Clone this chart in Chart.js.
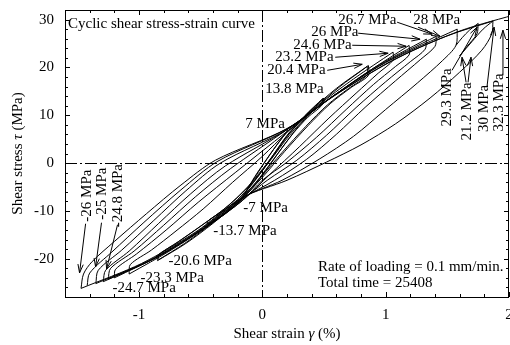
<!DOCTYPE html>
<html>
<head>
<meta charset="utf-8">
<script src="https://cdn.jsdelivr.net/npm/chart.js@4.4.1/dist/chart.umd.min.js"></script>
<style>
  html, body { margin: 0; padding: 0; background: #fff; }
  #wrap { width: 510px; height: 345px; }
</style>
</head>
<body>
<div id="wrap"><canvas id="chart" width="510" height="345"></canvas></div>
<script>
// Cyclic shear stress-strain loops, [strain %, stress MPa]
const xTickLabels = [-1, 0, 1, 2];
const yTickLabels = [-20, -10, 0, 10, 20, 30];

// +/-7 MPa
const load07 = [[-0.16, -7.2], [-0.1, -4.6], [-0.01, -1], [0.09, 2.8], [0.21, 6.9]];
const unload07 = [[0.21, 6.9], [0.14, 4.6], [0.04, 1], [-0.06, -2.8], [-0.16, -7.2]];
// +/-13.7 MPa (two cycles)
const load14a = [[-0.45, -13.1], [-0.44, -12.1], [-0.33, -10.2], [-0.2, -7.6], [-0.06, -3.6], [0.07, 1], [0.2, 5.8], [0.34, 9.8], [0.49, 13.5]];
const unload14a = [[0.49, 13.5], [0.48, 12.4], [0.39, 10.4], [0.29, 7.6], [0.16, 3.2], [0.03, -1.5], [-0.12, -6.4], [-0.28, -10], [-0.45, -13.1]];
const load14b = [[-0.44, -12.8], [-0.32, -10.4], [-0.18, -7.4], [-0.04, -3], [0.09, 1.6], [0.22, 6.2], [0.36, 10.2], [0.5, 13.6]];
const unload14b = [[0.5, 13.6], [0.48, 12], [0.37, 9.6], [0.25, 6.2], [0.12, 1.8], [-0.02, -3], [-0.15, -7], [-0.3, -10.6], [-0.44, -12.8]];
// +/-20.5 MPa (two cycles)
const load20a = [[-0.85, -20.4], [-0.85, -19.3], [-0.7, -16.8], [-0.5, -13.2], [-0.3, -9.4], [-0.12, -5], [0.04, 0], [0.2, 5.6], [0.38, 10.6], [0.6, 15.6], [0.86, 20.4]];
const unload20a = [[0.86, 20.4], [0.86, 18.3], [0.72, 15.8], [0.55, 12.4], [0.37, 7.8], [0.18, 2.4], [0, -3], [-0.18, -7.8], [-0.4, -12.6], [-0.62, -16.8], [-0.85, -20.4]];
const load20b = [[-0.84, -20.2], [-0.84, -19.2], [-0.68, -16.4], [-0.48, -12.8], [-0.28, -9], [-0.1, -4.6], [0.06, 0.4], [0.22, 5.8], [0.4, 10.8], [0.62, 15.8], [0.85, 20.2]];
const unload20b = [[0.85, 20.2], [0.85, 18.4], [0.7, 15.6], [0.53, 12.2], [0.35, 7.6], [0.16, 2.2], [-0.02, -3.2], [-0.2, -8], [-0.42, -12.8], [-0.63, -16.8], [-0.84, -20.2]];
// +/-23.2 MPa
const load23 = [[-1.08, -23.2], [-1.07, -21.2], [-0.9, -18.2], [-0.7, -14.2], [-0.48, -9.6], [-0.24, -4], [0, 1.4], [0.2, 6.4], [0.45, 12], [0.74, 17.6], [1.06, 23.2]];
const unload23 = [[1.06, 23.2], [1.06, 21.5], [0.94, 18.8], [0.76, 14.6], [0.54, 9.4], [0.3, 3.4], [0.06, -2.4], [-0.16, -7.8], [-0.42, -12.8], [-0.74, -18.2], [-1.08, -23.2]];
// 24.6 / -24.0 MPa
const load25 = [[-1.2, -24], [-1.19, -22.2], [-1.02, -19], [-0.78, -14], [-0.52, -8.2], [-0.22, -2], [0.2, 6.6], [0.5, 12.6], [0.84, 18.8], [1.19, 24.6]];
const unload25 = [[1.19, 24.6], [1.19, 22.6], [1.08, 20.2], [0.9, 16.4], [0.68, 11.2], [0.44, 5.4], [0.2, 0.2], [0, -3.6], [-0.16, -7.8], [-0.46, -13.4], [-0.82, -19.2], [-1.2, -24]];
// 26 / -24.3 MPa
const load26 = [[-1.25, -24.3], [-1.23, -22], [-1.04, -18.4], [-0.8, -13], [-0.54, -7], [-0.26, -1.2], [0.2, 7], [0.52, 13], [0.9, 19.8], [1.33, 25.9]];
const unload26 = [[1.33, 25.9], [1.32, 23.8], [1.2, 21.2], [1.0, 17], [0.76, 11.6], [0.52, 5.8], [0.28, 0.6], [0.04, -3.6], [-0.16, -7.6], [-0.48, -13.8], [-0.85, -19.6], [-1.25, -24.3]];
// 26.7 / -24.8 MPa
const load27 = [[-1.29, -24.8], [-1.27, -22.4], [-1.08, -18.4], [-0.84, -12.6], [-0.58, -6.4], [-0.3, -0.6], [0.2, 7], [0.54, 13.4], [0.95, 20.4], [1.41, 26.5]];
const unload27 = [[1.41, 26.5], [1.4, 24.4], [1.28, 21.6], [1.08, 17.2], [0.84, 11.8], [0.6, 6], [0.36, 0.8], [0.1, -3.6], [-0.16, -7.4], [-0.5, -14], [-0.88, -20], [-1.29, -24.8]];
// 28 / -25 MPa
const load28 = [[-1.35, -25.2], [-1.33, -22.4], [-1.14, -18.2], [-0.88, -12], [-0.62, -5.8], [-0.34, 0], [0.2, 7], [0.56, 13.8], [1, 21], [1.58, 28]];
const unload28 = [[1.58, 28], [1.57, 24.6], [1.46, 21.4], [1.26, 16.8], [1.0, 11.2], [0.74, 5.6], [0.46, 0.8], [0.16, -3.6], [-0.16, -7.2], [-0.52, -14.2], [-0.92, -20.4], [-1.35, -25.2]];
// 30 / -26 MPa
const load30 = [[-1.47, -26.2], [-1.45, -23.2], [-1.38, -20.6], [-1.2, -16.4], [-0.94, -10.6], [-0.66, -4.6], [-0.38, 0.6], [0.2, 7.2], [0.58, 14], [1.05, 21.4], [1.5, 26.6], [1.87, 29.7]];
const unload30 = [[1.87, 29.7], [1.86, 27], [1.78, 23.6], [1.6, 19], [1.36, 13.6], [1.08, 8.2], [0.8, 3.8], [0.52, 0.2], [0.2, -3.6], [-0.16, -7.2], [-0.54, -14.4], [-0.98, -21], [-1.47, -26.2]];
// 32.3 MPa (peak beyond frame)
const load32 = [[-1.42, -25.6], [-1.4, -23], [-1.22, -18.6], [-0.96, -12.4], [-0.66, -5.6], [-0.36, 0.4], [0.2, 7.2], [0.6, 14.4], [1.1, 22], [1.6, 27.6], [2.1, 31.4]];
// small cycles near the top
const load29 = [[1.57, 24.6], [1.62, 26.2], [1.68, 27.8], [1.75, 29.2]];
const unload29 = [[1.75, 29.2], [1.74, 27], [1.66, 24.4], [1.6, 22.4]];
const load21 = [[1.6, 22.4], [1.7, 25.4], [1.79, 28], [1.87, 29.7]];

const branches = [
  load07, unload07, load14a, unload14a, load14b, unload14b,
  load20a, unload20a, load20b, unload20b, load23, unload23,
  load25, unload25, load26, unload26, load27, unload27,
  load28, unload28, load30, unload30, load32, load29, unload29, load21
];

// annotation texts: [text, anchor strain, anchor stress, rotated, arrow from, arrow to]
const notes = [
  ['26.7 MPa', 0.615, 29.87, false, [1.093, 29.45], [1.377, 26.94]],
  ['28 MPa', 1.223, 29.87, false, [1.263, 28.4], [1.441, 26.5]],
  ['26 MPa', 0.397, 27.36, false, [0.777, 27.15], [1.279, 25.89]],
  ['24.6 MPa', 0.251, 24.63, false, [0.729, 24.63], [1.166, 24.42]],
  ['23.2 MPa', 0.105, 22.12, false, [0.591, 22.12], [1.02, 22.96]],
  ['20.4 MPa', 0.04, 19.39, false, [0.526, 19.39], [0.81, 20.65]],
  ['13.8 MPa', 0.024, 15.4, false, null, null],
  ['7 MPa', -0.138, 8.07, false, null, null],
  ['-7 MPa', -0.154, -9.33, false, null, null],
  ['-13.7 MPa', -0.397, -14.15, false, null, null],
  ['-20.6 MPa', -0.761, -20.44, false, null, null],
  ['-23.3 MPa', -0.988, -24.0, false, null, null],
  ['-24.7 MPa', -1.215, -26.1, false, null, null],
  ['-26 MPa', -1.425, -6.81, true, [-1.433, -12.68], [-1.482, -22.96]],
  ['-25 MPa', -1.296, -6.39, true, [-1.304, -12.47], [-1.352, -21.7]],
  ['-24.8 MPa', -1.166, -6.81, true, [-1.174, -12.89], [-1.263, -22.12]],
  ['29.3 MPa', 1.498, 13.73, true, [1.538, 19.39], [1.741, 28.41]],
  ['21.2 MPa', 1.66, 10.8, true, [1.652, 16.88], [1.619, 22.12]],
  ['', 0, 0, false, [1.668, 16.88], [1.692, 22.12]],
  ['30 MPa', 1.798, 11.43, true, [1.822, 16.04], [1.879, 28.41]],
  ['32.3 MPa', 1.919, 12.68, true, [1.951, 18.34], [1.951, 27.78]]
];

const SERIF = "'Liberation Serif', 'Times New Roman', serif";

function arrow(ctx, x1, y1, x2, y2) {
  const a = Math.atan2(y2 - y1, x2 - x1);
  const h = 9, w = 0.3;
  ctx.beginPath();
  ctx.moveTo(x1, y1);
  ctx.lineTo(x2, y2);
  ctx.moveTo(x2 - h * Math.cos(a - w), y2 - h * Math.sin(a - w));
  ctx.lineTo(x2, y2);
  ctx.lineTo(x2 - h * Math.cos(a + w), y2 - h * Math.sin(a + w));
  ctx.stroke();
}

const frame = {
  id: 'frame',
  beforeDatasetsDraw(chart) {
    const { ctx, chartArea: a, scales: { x, y } } = chart;
    ctx.save();
    ctx.strokeStyle = '#000';
    ctx.lineWidth = 1;
    ctx.setLineDash([12, 3, 2, 3]);
    ctx.beginPath();
    const x0 = Math.round(x.getPixelForValue(0)) + 0.5;
    const y0 = Math.round(y.getPixelForValue(0)) + 0.5;
    ctx.moveTo(x0, a.top); ctx.lineTo(x0, a.bottom);
    ctx.moveTo(a.left, y0); ctx.lineTo(a.right, y0);
    ctx.stroke();
    ctx.restore();
  },
  afterDatasetsDraw(chart) {
    const { ctx, chartArea: a, scales: { x, y } } = chart;
    ctx.save();
    ctx.strokeStyle = '#000';
    ctx.fillStyle = '#000';
    ctx.lineWidth = 1;
    ctx.strokeRect(Math.round(a.left) + 0.5, Math.round(a.top) + 0.5,
      Math.round(a.right - a.left) - 1, Math.round(a.bottom - a.top));

    // inward ticks on all four sides
    ctx.beginPath();
    for (let i = -8; i <= 10; i++) {
      const v = i * 0.2;
      const px = Math.round(x.getPixelForValue(v)) + 0.5;
      const len = i % 5 === 0 ? 5 : 3;
      ctx.moveTo(px, a.bottom); ctx.lineTo(px, a.bottom - len);
      ctx.moveTo(px, a.top); ctx.lineTo(px, a.top + len);
    }
    for (let v = -28; v <= 32; v += 2) {
      const py = Math.round(y.getPixelForValue(v)) + 0.5;
      const len = v % 10 === 0 ? 5 : 3;
      ctx.moveTo(a.left, py); ctx.lineTo(a.left + len, py);
      ctx.moveTo(a.right, py); ctx.lineTo(a.right - len, py);
    }
    ctx.stroke();

    // tick labels
    ctx.font = '15px ' + SERIF;
    ctx.textAlign = 'center';
    ctx.textBaseline = 'middle';
    xTickLabels.forEach(v => ctx.fillText(String(v), x.getPixelForValue(v), a.bottom + 18));
    ctx.textAlign = 'right';
    yTickLabels.forEach(v => ctx.fillText(String(v), a.left - 11, y.getPixelForValue(v)));

    // axis titles with italic symbols
    const title = (parts, cx, cy) => {
      let w = 0;
      parts.forEach(p => { ctx.font = p[1] + '15px ' + SERIF; w += ctx.measureText(p[0]).width; });
      let cur = cx - w / 2;
      ctx.textAlign = 'left';
      parts.forEach(p => {
        ctx.font = p[1] + '15px ' + SERIF;
        ctx.fillText(p[0], cur, cy);
        cur += ctx.measureText(p[0]).width;
      });
    };
    title([['Shear strain ', ''], ['\u03b3', 'italic '], [' (%)', '']], (a.left + a.right) / 2, 334);
    ctx.save();
    ctx.translate(18, (a.top + a.bottom) / 2);
    ctx.rotate(-Math.PI / 2);
    title([['Shear stress ', ''], ['\u03c4', 'italic '], [' (MPa)', '']], 0, 0);
    ctx.restore();

    // inner texts
    ctx.font = '15px ' + SERIF;
    ctx.textAlign = 'left';
    ctx.fillText('Cyclic shear stress-strain curve', a.left + 3, a.top + 14);
    ctx.fillText('Rate of loading = 0.1 mm/min.', 318, 267);
    ctx.fillText('Total time = 25408', 318, 283);

    // annotations
    notes.forEach(([text, nx, ny, rot, from, to]) => {
      if (text) {
        const px = x.getPixelForValue(nx), py = y.getPixelForValue(ny);
        ctx.save();
        ctx.translate(px, py);
        if (rot) { ctx.rotate(-Math.PI / 2); ctx.textAlign = 'center'; }
        else ctx.textAlign = 'left';
        ctx.fillText(text, 0, 0);
        ctx.restore();
      }
      if (from) {
        arrow(ctx, x.getPixelForValue(from[0]), y.getPixelForValue(from[1]),
          x.getPixelForValue(to[0]), y.getPixelForValue(to[1]));
      }
    });
    ctx.restore();
  }
};

new Chart(document.getElementById('chart'), {
  type: 'scatter',
  data: {
    datasets: branches.map(b => ({
      data: b.map(p => ({ x: p[0], y: p[1] })),
      showLine: true,
      borderColor: '#000',
      borderWidth: 1,
      pointRadius: 0,
      tension: 0.3
    }))
  },
  options: {
    responsive: false,
    animation: false,
    devicePixelRatio: 1,
    layout: { padding: { left: 65, right: 1, top: 10, bottom: 48 } },
    plugins: { legend: { display: false }, tooltip: { enabled: false } },
    scales: {
      x: { type: 'linear', min: -1.6, max: 2, display: false },
      y: { type: 'linear', min: -28, max: 32, display: false }
    }
  },
  plugins: [frame]
});
</script>
</body>
</html>
